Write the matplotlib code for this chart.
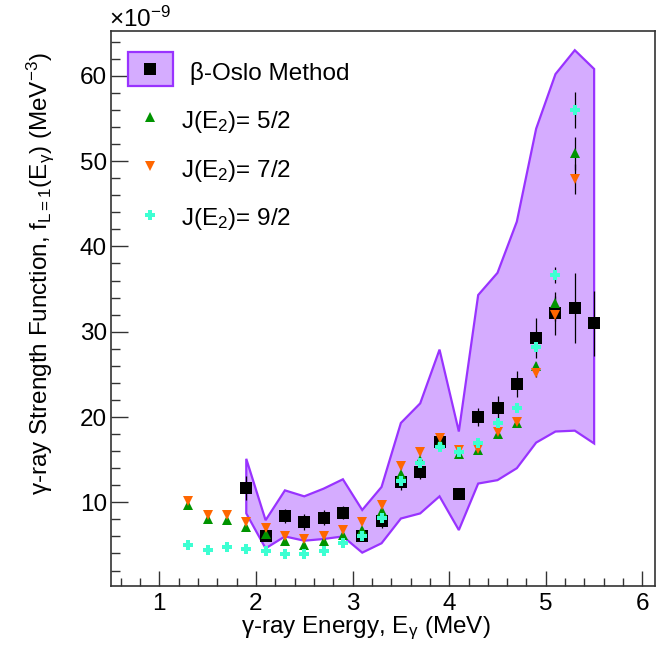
import matplotlib
matplotlib.use('Agg')
import matplotlib.pyplot as plt
from matplotlib.ticker import MultipleLocator
from matplotlib.patches import Rectangle

plt.rcParams['font.family'] = ['Liberation Sans', 'DejaVu Sans']
plt.rcParams['mathtext.fontset'] = 'custom'
plt.rcParams['mathtext.rm'] = 'Liberation Sans'
plt.rcParams['mathtext.it'] = 'Liberation Sans:italic'
plt.rcParams['mathtext.bf'] = 'Liberation Sans:bold'

# beta-Oslo band and points (units of 1e-9 MeV^-3)
band_x = [1.9, 2.1, 2.3, 2.5, 2.7, 2.9, 3.1, 3.3, 3.5, 3.7, 3.9, 4.1, 4.3, 4.5, 4.7, 4.9, 5.1, 5.3, 5.5]
band_hi = [15.1, 7.9, 11.4, 10.7, 11.6, 12.7, 9.1, 11.8, 19.3, 21.6, 27.9, 18.3, 34.3, 36.9, 42.9, 53.8, 60.2, 63.0, 60.8]
band_lo = [8.7, 4.6, 6.0, 5.5, 5.7, 6.0, 4.1, 5.2, 8.1, 8.7, 10.7, 6.75, 12.2, 12.6, 14.0, 17.0, 18.3, 18.4, 16.9]

oslo_x = [1.9, 2.1, 2.3, 2.5, 2.7, 2.9, 3.1, 3.3, 3.5, 3.7, 3.9, 4.1, 4.3, 4.5, 4.7, 4.9, 5.1, 5.3, 5.5]
oslo_y = [11.7, 6.0, 8.4, 7.7, 8.2, 8.8, 6.05, 7.85, 12.4, 13.6, 17.1, 11.0, 20.0, 21.1, 23.9, 29.3, 32.15, 32.8, 31.0]
oslo_err = [1.4, 0.5, 0.8, 0.9, 0.85, 0.75, 0.4, 0.85, 0.9, 0.85, 0.7, 0.3, 1.0, 1.4, 1.55, 2.35, 2.55, 4.1, 3.8]

j_x = [1.3, 1.5, 1.7, 1.9, 2.1, 2.3, 2.5, 2.7, 2.9, 3.1, 3.3, 3.5, 3.7, 3.9, 4.1, 4.3, 4.5, 4.7, 4.9, 5.1, 5.3]
j52_y = [9.7, 8.0, 7.93, 7.07, 6.28, 5.46, 5.0, 5.46, 6.15, 6.8, 9.0, 13.3, 14.96, 16.9, 15.66, 16.1, 18.0, 19.3, 26.0, 33.4, 50.9]
j52_err = [0.2, 0.2, 0.2, 0.2, 0.2, 0.2, 0.2, 0.2, 0.2, 0.2, 0.3, 0.3, 0.3, 0.3, 0.3, 0.3, 0.4, 0.4, 0.5, 0.8, 1.9]
j72_y = [10.2, 8.5, 8.5, 7.73, 6.95, 6.05, 5.66, 6.05, 6.8, 7.65, 9.7, 14.2, 15.9, 17.5, 16.1, 16.3, 18.3, 19.45, 25.2, 32.0, 47.9]
j72_err = [0.2, 0.2, 0.2, 0.2, 0.2, 0.2, 0.2, 0.2, 0.2, 0.2, 0.3, 0.3, 0.3, 0.3, 0.3, 0.3, 0.4, 0.4, 0.5, 0.8, 1.75]
j92_y = [5.0, 4.4, 4.72, 4.52, 4.3, 3.94, 3.9, 4.33, 5.2, 6.1, 8.2, 12.5, 14.65, 16.5, 15.9, 16.9, 19.26, 21.0, 28.2, 36.65, 56.0]
j92_err = [0.2, 0.2, 0.2, 0.2, 0.2, 0.2, 0.2, 0.2, 0.2, 0.2, 0.3, 0.3, 0.3, 0.3, 0.3, 0.3, 0.4, 0.4, 0.5, 0.9, 2.1]

FILL = '#d5acff'
EDGE = '#9933ff'
GREEN = '#009400'
ORANGE = '#ff6600'
CYAN = '#3dffd2'

fig = plt.figure(figsize=(6.56, 6.49), dpi=100)
W, H = 656, 649
L, R, T, B = 111, 655, 30.5, 586
ax = fig.add_axes([L / W, 1 - B / H, (R - L) / W, (B - T) / H])

# band polygon
poly_x = band_x + band_x[::-1]
poly_y = band_hi + band_lo[::-1]
ax.fill(poly_x, poly_y, facecolor=FILL, edgecolor=EDGE, linewidth=1.6, zorder=1)

eb_kw = dict(ecolor='black', elinewidth=0.9, capsize=2.5, capthick=0.9, linestyle='none')
ax.errorbar(oslo_x, oslo_y, yerr=oslo_err, marker='s', markersize=8.6, color='black',
            markeredgewidth=0, zorder=3, **eb_kw)
ax.errorbar(j_x, j52_y, yerr=j52_err, marker='^', markersize=7, color=GREEN,
            markeredgewidth=0, zorder=4, **eb_kw)
ax.errorbar(j_x, j72_y, yerr=j72_err, marker='v', markersize=7, color=ORANGE,
            markeredgewidth=0, zorder=5, **eb_kw)
ax.errorbar(j_x, j92_y, yerr=j92_err, marker='P', markersize=7.5, color=CYAN,
            markeredgewidth=0, zorder=6, **eb_kw)

ax.set_xlim(0.5, 6.13)
ax.set_ylim(0.19, 65.31)
ax.xaxis.set_major_locator(MultipleLocator(1))
ax.xaxis.set_minor_locator(MultipleLocator(0.2))
ax.yaxis.set_major_locator(MultipleLocator(10))
ax.yaxis.set_minor_locator(MultipleLocator(2))
ax.tick_params(axis='both', which='both', direction='in', top=False, right=False,
               width=1.0, color='#333333')
ax.tick_params(axis='x', which='major', length=11, pad=5, labelsize=17.5)
ax.tick_params(axis='x', which='minor', length=5.8)
ax.tick_params(axis='y', which='major', length=12, pad=3, labelsize=17.5)
ax.tick_params(axis='y', which='minor', length=6.5)
ax.set_yticks([10, 20, 30, 40, 50, 60])
for s in ax.spines.values():
    s.set_linewidth(1.2)
    s.set_color('#333333')

# multiplier
fig.text(109 / W, 1 - 27 / H, '×10$^{\\mathrm{-9}}$', fontsize=17.5, ha='left', va='baseline')

# axis titles
fig.text(40 / W, 1 - 52 / H,
         'γ-ray Strength Function, f$_{\\mathrm{L=1}}$(E$_{\\mathrm{γ}}$) (MeV$^{\\mathrm{-3}}$)',
         fontsize=17.5, rotation=90, ha='center', va='top')
fig.text(366 / W, 1 - 633 / H, 'γ-ray Energy, E$_{\\mathrm{γ}}$ (MeV)', fontsize=17.5,
         ha='center', va='baseline')

# legend (manual)
def ax_xy(px, py):
    return ((px - L) / (R - L), (B - py) / (B - T))

x0, y0 = ax_xy(127.5, 85.5)
x1, y1 = ax_xy(172.5, 51.5)
ax.add_patch(Rectangle((x0, y0), x1 - x0, y1 - y0, transform=ax.transAxes,
                       facecolor=FILL, edgecolor=EDGE, linewidth=1.6, zorder=7))
entries = [
    ('s', 'black', 69, 80, 'β-Oslo Method', 190, 8.6),
    ('^', GREEN, 117, 128, 'J(E$_{\\mathrm{2}}$)= 5/2', 181, 7),
    ('v', ORANGE, 166, 176.5, 'J(E$_{\\mathrm{2}}$)= 7/2', 181, 7),
    ('P', CYAN, 215, 225, 'J(E$_{\\mathrm{2}}$)= 9/2', 181, 7.5),
]
for m, c, my, ty, lab, tx, ms in entries:
    mx, myy = ax_xy(150, my)
    ax.plot([mx], [myy], marker=m, color=c, markersize=ms, markeredgewidth=0,
            transform=ax.transAxes, zorder=8, clip_on=False)
    tx_, ty_ = ax_xy(tx, ty)
    ax.text(tx_, ty_, lab, transform=ax.transAxes, fontsize=17.5, ha='left',
            va='baseline', zorder=8)

fig.savefig('out.png', dpi=100)
